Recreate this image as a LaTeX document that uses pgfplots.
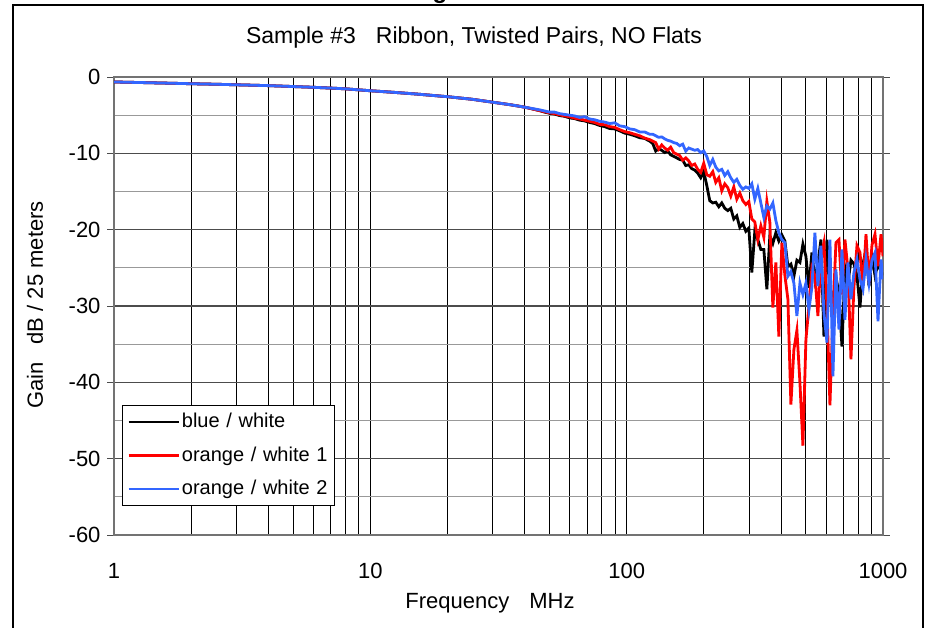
\documentclass[border=0pt]{standalone}
\usepackage{pgfplots}
\pgfplotsset{compat=1.18}
\usepackage{pgfplotstable}
\usepackage{fontspec}
\setmainfont{Liberation Sans}
\definecolor{lineblue}{RGB}{51,102,255}

\pgfplotstableread{
f B R L
1 -0.65 -0.65 -0.65
1.25 -0.72 -0.72 -0.72
1.5 -0.78 -0.78 -0.78
2 -0.88 -0.88 -0.88
2.5 -0.95 -0.95 -0.95
3 -1.02 -1.02 -1.02
4 -1.13 -1.13 -1.13
5 -1.25 -1.25 -1.25
6 -1.35 -1.35 -1.35
7 -1.45 -1.45 -1.45
8 -1.55 -1.55 -1.55
10 -1.80 -1.80 -1.80
12 -1.98 -1.98 -1.98
15 -2.22 -2.22 -2.22
20 -2.58 -2.58 -2.58
25 -2.92 -2.92 -2.92
30 -3.30 -3.30 -3.30
35 -3.62 -3.62 -3.62
40 -3.95 -3.95 -3.95
45.73 -4.40 -4.40 -4.30
47.83 -4.60 -4.55 -4.45
50.03 -4.75 -4.70 -4.60
52.33 -4.85 -4.80 -4.60
54.73 -5.05 -4.95 -4.80
57.25 -5.15 -5.10 -4.90
59.89 -5.35 -5.20 -5.00
62.64 -5.45 -5.40 -5.10
65.53 -5.65 -5.50 -5.30
68.54 -5.75 -5.65 -5.20
71.70 -5.95 -5.80 -5.50
75.00 -6.10 -5.95 -5.60
78.45 -6.35 -6.20 -5.80
82.06 -6.50 -6.25 -5.90
85.84 -6.75 -6.50 -6.10
89.79 -6.80 -6.60 -6.00
93.91 -7.05 -6.90 -6.40
98.23 -7.35 -7.15 -6.50
102.74 -7.50 -7.30 -6.80
107.47 -7.70 -7.50 -6.90
112.40 -7.95 -7.70 -7.20
117.58 -8.05 -8.00 -7.20
122.97 -8.40 -8.20 -7.50
126.33 -8.70 -8.40 -7.50
129.79 -9.70 -8.60 -7.70
133.35 -9.40 -9.45 -7.90
136.99 -9.60 -8.90 -7.85
140.74 -9.90 -9.30 -8.10
144.59 -9.70 -9.60 -8.30
148.53 -10.20 -9.20 -8.40
152.60 -10.40 -9.90 -8.60
156.77 -10.60 -10.10 -8.70
161.07 -10.80 -10.30 -9.00
165.48 -10.90 -10.90 -8.80
170.01 -11.60 -10.60 -9.70
174.66 -11.50 -11.00 -9.30
179.41 -12.00 -11.60 -9.45
184.32 -12.20 -11.40 -9.60
189.36 -12.60 -12.10 -9.50
194.54 -13.20 -12.50 -9.90
199.87 -12.40 -11.30 -9.70
205.34 -14.20 -12.80 -10.40
210.95 -16.20 -13.00 -11.60
216.72 -16.50 -12.40 -10.80
222.65 -16.40 -13.80 -11.80
228.75 -17.00 -13.20 -12.30
234.99 -16.50 -14.90 -12.10
241.42 -17.20 -14.00 -12.90
248.03 -17.50 -14.50 -12.40
254.78 -17.20 -15.60 -13.20
261.75 -18.60 -14.40 -13.80
268.92 -18.20 -16.00 -13.40
276.30 -19.70 -15.20 -14.20
283.86 -19.20 -16.20 -14.70
291.63 -20.20 -16.70 -14.40
299.61 -19.80 -16.30 -14.60
307.79 -25.60 -18.60 -14.00
316.21 -20.20 -19.00 -16.00
324.87 -21.30 -21.30 -14.60
333.79 -22.60 -19.50 -16.50
342.92 -22.60 -21.00 -18.40
352.31 -27.80 -16.30 -16.90
361.90 -20.80 -19.00 -17.30
371.80 -21.80 -30.20 -16.50
381.98 -20.40 -24.30 -18.80
392.43 -21.50 -34.00 -20.40
403.19 -20.70 -21.70 -21.30
414.22 -21.50 -26.00 -21.70
425.56 -24.80 -29.10 -26.10
437.22 -24.50 -42.90 -25.50
449.18 -26.10 -35.70 -27.00
461.47 -24.00 -33.20 -31.30
474.10 -24.30 -40.00 -27.00
487.07 -21.90 -48.30 -28.50
500.40 -23.50 -34.40 -27.00
514.10 -27.60 -30.00 -30.50
528.02 -23.00 -25.00 -27.50
542.47 -26.50 -26.00 -20.40
557.31 -24.50 -31.30 -27.40
572.63 -21.30 -23.50 -22.10
588.30 -34.00 -21.70 -30.90
604.40 -21.30 -30.00 -34.80
620.90 -27.40 -43.00 -21.30
637.89 -29.60 -31.00 -39.20
655.35 -26.10 -21.70 -25.20
673.29 -28.50 -21.30 -33.10
691.64 -35.30 -28.50 -22.60
710.56 -25.00 -21.30 -31.80
730.01 -27.00 -25.20 -24.30
749.92 -24.00 -37.00 -29.10
770.44 -24.50 -27.50 -25.60
791.52 -26.00 -22.10 -23.90
813.20 -30.20 -23.00 -26.50
835.45 -24.50 -27.40 -27.80
858.32 -22.60 -20.60 -23.90
881.81 -27.40 -27.00 -27.00
905.86 -23.50 -22.00 -24.00
930.64 -26.00 -20.60 -23.00
956.12 -24.50 -24.80 -32.00
982.20 -25.50 -20.60 -23.90
1000 -26.00 -23.50 -26.50
}\datatable

\begin{document}
\begin{tikzpicture}
\useasboundingbox (0pt,0pt) rectangle (929pt,627pt);
\draw[line width=1.5pt] (13pt,-5pt) -- (13pt,622pt) -- (923pt,622pt) -- (923pt,-5pt);
\node[font=\fontsize{24}{28}\selectfont\bfseries, anchor=base] at (440pt,628pt) {g};
\node[font=\fontsize{23}{27}\selectfont] at (474pt,589pt) {Sample \#3\hspace{20pt}Ribbon, Twisted Pairs, NO Flats};
\node[font=\fontsize{22}{26}\selectfont, rotate=90] at (35pt,322pt) {Gain\hspace{18pt}dB / 25 meters};
\node[font=\fontsize{22}{26}\selectfont] at (490pt,24pt) {Frequency\hspace{20pt}MHz};
\begin{axis}[
  at={(114pt,92pt)}, anchor=south west,
  scale only axis, width=769pt, height=458pt,
  xmode=log, xmin=1, xmax=1000, ymin=-60, ymax=0,
  xtick={1,10,100,1000}, xticklabels={1,10,100,1000},
  ytick={-60,-50,-40,-30,-20,-10,0},
  yticklabels={-60,-50,-40,-30,-20,-10,0},
  minor y tick num=1,
  grid=both,
  major x grid style={black, line width=0.8pt},
  minor x grid style={black, line width=0.8pt},
  major y grid style={black!70, line width=1.2pt},
  minor y grid style={black!40, line width=1.2pt},
  axis line style={draw=black!55, line width=1.6pt},
  tick align=outside,
  major tick length=7pt, minor tick length=0pt,
  xtick style={draw=none},
  ytick style={black!70, line width=1pt},
  tick label style={font=\fontsize{22}{26}\selectfont},
  yticklabel style={xshift=-3pt},
  xticklabel style={yshift=-18pt},
  legend cell align=left,
  legend style={at={(0.0104,0.0633)}, anchor=south west, draw=black, line width=1pt,
    fill=white, font=\fontsize{20}{24}\selectfont, inner sep=5pt, row sep=10.5pt,
    nodes={inner sep=2pt, text height=15pt, text depth=4pt},
    /tikz/every even column/.append style={text width=146pt}},
  legend image code/.code={\draw[#1, line width=2.4pt] (0pt,0pt) -- (50pt,0pt);},
]
\addplot[black, line width=2.8pt] table[x=f, y=B] {\datatable};
\addlegendentry{blue / white}
\addplot[red, line width=2.8pt] table[x=f, y=R] {\datatable};
\addlegendentry{orange / white 1}
\addplot[lineblue, line width=2.8pt] table[x=f, y=L] {\datatable};
\addlegendentry{orange / white 2}
\end{axis}
\end{tikzpicture}
\end{document}
